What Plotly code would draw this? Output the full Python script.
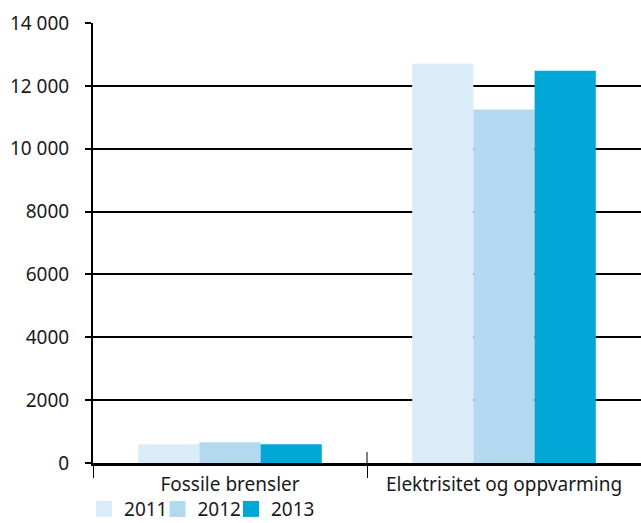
import plotly.graph_objects as go

categories = ["Fossile brensler", "Elektrisitet og oppvarming"]
years = ["2011", "2012", "2013"]
values_2011 = [600, 12700]
values_2012 = [660, 11250]
values_2013 = [600, 12480]
colors = ["#d9ecf8", "#b3d9f0", "#00a7d7"]
y_tickvals = [0, 2000, 4000, 6000, 8000, 10000, 12000, 14000]
y_ticktext = ["0", "2000", "4000", "6000", "8000", "10 000", "12 000", "14 000"]

series = [values_2011, values_2012, values_2013]
legend_ids = ["legend", "legend2", "legend3"]
legend_x = [-0.0164, 0.1177, 0.2518]

fig = go.Figure()
for name, vals, col in zip(years, series, colors):
    fig.add_trace(go.Bar(x=categories, y=vals, name=name, marker_color=col,
                         marker_line_width=0, showlegend=False))
# legend entries with larger square swatches, one legend per item
for name, col, lid in zip(years, colors, legend_ids):
    fig.add_trace(go.Scatter(x=[None], y=[None], mode="markers", name=name,
                             legend=lid,
                             marker=dict(symbol="square", size=16, color=col)))

legend_style = dict(orientation="h", xanchor="left", yref="container", y=0.063,
                    yanchor="top", font=dict(size=19), itemwidth=30,
                    bgcolor="rgba(0,0,0,0)", borderwidth=0)

fig.update_layout(
    width=641, height=523,
    margin=dict(l=93, r=0, t=23, b=60, autoexpand=False),
    paper_bgcolor="white", plot_bgcolor="white",
    font=dict(family="Noto Sans, Open Sans, sans-serif", color="#1a1a1a", size=19),
    barmode="group", bargap=0.33, bargroupgap=0,
    showlegend=True,
    legend=dict(x=legend_x[0], **legend_style),
    legend2=dict(x=legend_x[1], **legend_style),
    legend3=dict(x=legend_x[2], **legend_style),
)
fig.update_xaxes(
    type="category", range=[-0.5, 1.5],
    showline=True, linecolor="black", linewidth=3,
    ticks="outside", tickson="boundaries", ticklen=12, tickwidth=1, tickcolor="black",
    showgrid=False, tickfont=dict(size=19), ticklabelstandoff=2,
)
fig.update_yaxes(
    range=[0, 14000], tickvals=y_tickvals, ticktext=y_ticktext,
    showline=True, linecolor="black", linewidth=2,
    ticks="outside", ticklen=6, tickwidth=2, tickcolor="black",
    showgrid=True, gridcolor="black", gridwidth=2,
    zeroline=False, tickfont=dict(size=19), ticklabelstandoff=12,
)
# upper half of the category divider tick
fig.add_shape(type="line", xref="x", yref="paper", x0=0.5, x1=0.5, y0=0, y1=0.025,
              line=dict(color="black", width=1))

fig.write_html("out.html")
